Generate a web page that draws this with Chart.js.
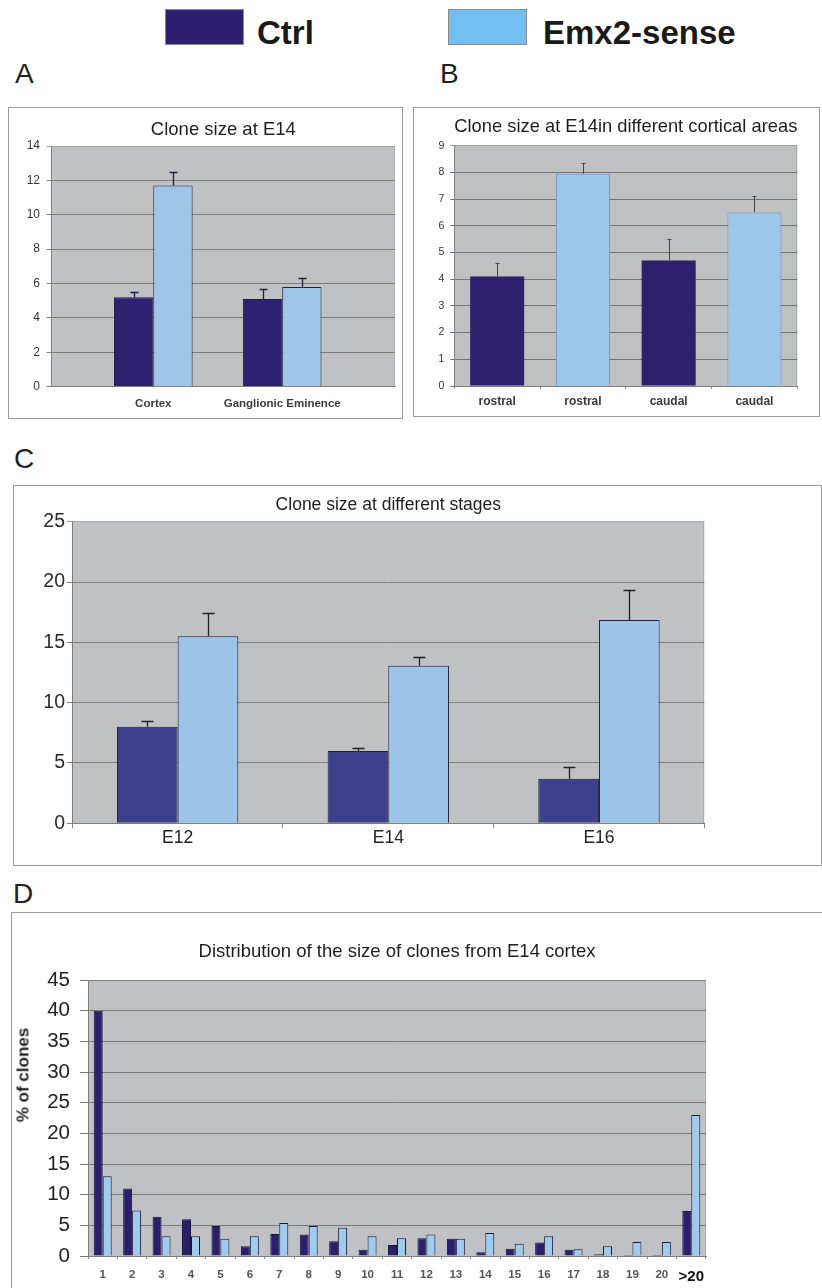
<!DOCTYPE html>
<html><head><meta charset="utf-8">
<script src="https://cdn.jsdelivr.net/npm/chart.js@4.4.1/dist/chart.umd.min.js"></script>
<style>
html,body{margin:0;padding:0;background:#fff;}
body{width:822px;height:1288px;position:relative;overflow:hidden;font-family:'Liberation Sans',Arial,Helvetica,sans-serif;}
.frame{position:absolute;border:1px solid #9a9a9a;box-sizing:border-box;background:#fff;overflow:hidden;}
.frame canvas{position:absolute;left:0;top:0;}
.letter{position:absolute;font-size:28px;line-height:28px;color:#222;}
.lgbox{position:absolute;border:1px solid #8a8a8a;box-sizing:border-box;}
.lgtext{position:absolute;font-weight:bold;font-size:33px;line-height:33px;color:#1a1a1a;white-space:nowrap;}
</style></head>
<body>
<div class="lgbox" style="left:165px;top:9px;width:79px;height:36px;background:#2e1e6e;"></div>
<div class="lgtext" id="lg0" style="left:257px;top:15.5px;"></div>
<div class="lgbox" style="left:448px;top:9px;width:79px;height:36px;background:#70bff0;"></div>
<div class="lgtext" id="lg1" style="left:543px;top:15.5px;"></div>

<div class="letter" style="left:15px;top:59.5px;">A</div>
<div class="letter" style="left:440px;top:59.5px;">B</div>
<div class="letter" style="left:14px;top:445px;">C</div>
<div class="letter" style="left:13px;top:879.5px;">D</div>

<div class="frame" style="left:8px;top:107px;width:395px;height:312px;"><canvas id="cA" width="393" height="310" style="width:393px;height:310px"></canvas></div>
<div class="frame" style="left:413px;top:107px;width:407px;height:310px;"><canvas id="cB" width="405" height="308" style="width:405px;height:308px"></canvas></div>
<div class="frame" style="left:13px;top:485px;width:809px;height:381px;"><canvas id="cC" width="807" height="379" style="width:807px;height:379px"></canvas></div>
<div class="frame" style="left:11px;top:912px;width:830px;height:400px;"><canvas id="cD" width="810" height="375" style="width:810px;height:375px"></canvas></div>
<div style="position:absolute;left:23px;top:1075px;transform:translate(-50%,-50%) rotate(-90deg);font-weight:bold;font-size:17px;line-height:1;white-space:nowrap;color:#222;">% of clones</div>

<script>
// ---------------- data ----------------
const seriesNames = ['Ctrl', 'Emx2-sense'];

// Panel A
const titleA = 'Clone size at E14';
const catsA = ['Cortex', 'Ganglionic Eminence'];
const ctrlA = [5.2, 5.1];
const emxA = [11.7, 5.8];
const ctrlErrA = [0.3, 0.6];
const emxErrA = [0.8, 0.5];
const yTicksA = [0, 2, 4, 6, 8, 10, 12, 14];

// Panel B
const titleB = 'Clone size at E14in different cortical areas';
const catsB = ['rostral', 'rostral', 'caudal', 'caudal'];
const ctrlB = [4.1, null, 4.7, null];
const emxB = [null, 7.95, null, 6.5];
const ctrlErrB = [0.5, null, 0.8, null];
const emxErrB = [null, 0.4, null, 0.6];
const yTicksB = [0, 1, 2, 3, 4, 5, 6, 7, 8, 9];

// Panel C
const titleC = 'Clone size at different stages';
const catsC = ['E12', 'E14', 'E16'];
const ctrlC = [8.0, 6.0, 3.7];
const emxC = [15.5, 13.05, 16.85];
const ctrlErrC = [0.5, 0.25, 1.0];
const emxErrC = [1.9, 0.75, 2.45];
const yTicksC = [0, 5, 10, 15, 20, 25];

// Panel D
const titleD = 'Distribution of the size of clones from E14 cortex';
const catsD = ['1','2','3','4','5','6','7','8','9','10','11','12','13','14','15','16','17','18','19','20','>20'];
const ctrlD = [40, 11, 6.4, 6.0, 4.9, 1.6, 3.6, 3.5, 2.4, 1.0, 1.8, 2.9, 2.8, 0.6, 1.2, 2.2, 1.0, 0.3, 0.15, 0.15, 7.35];
const emxD = [13, 7.4, 3.2, 3.2, 2.8, 3.2, 5.4, 4.9, 4.6, 3.2, 2.9, 3.5, 2.8, 3.75, 2.0, 3.2, 1.1, 1.6, 2.3, 2.3, 23.0];
const yTicksD = [0, 5, 10, 15, 20, 25, 30, 35, 40, 45];

// ---------------- rendering ----------------
document.getElementById('lg0').textContent = seriesNames[0];
document.getElementById('lg1').textContent = seriesNames[1];

const FONT = "'Liberation Sans', Arial, Helvetica, sans-serif";
Chart.defaults.font.family = FONT;

const plotBg = {
  id: 'plotBg',
  beforeDraw(chart, args, opts) {
    const {ctx, chartArea: a} = chart;
    ctx.save();
    ctx.fillStyle = opts.color || '#c0c1c3';
    ctx.fillRect(a.left, a.top, a.right - a.left, a.bottom - a.top);
    if (opts.edge) {
      ctx.strokeStyle = opts.edge; ctx.lineWidth = 1;
      ctx.beginPath();
      const xr = Math.round(a.right) - 0.5;
      ctx.moveTo(xr, a.top); ctx.lineTo(xr, a.bottom); ctx.stroke();
    }
    ctx.restore();
  }
};

const errBars = {
  id: 'errBars',
  afterDatasetsDraw(chart, args, opts) {
    if (!opts || !opts.cap) return;
    const {ctx} = chart;
    const ys = chart.scales.y;
    chart.data.datasets.forEach((ds, i) => {
      if (!ds.errors) return;
      const meta = chart.getDatasetMeta(i);
      meta.data.forEach((el, j) => {
        const e = ds.errors[j];
        if (e == null) return;
        const p = meta.controller.getParsed(j);
        if (!p || p.y == null || isNaN(p.y)) return;
        const yT = Math.round(ys.getPixelForValue(p.y + e)) + 0.5;
        const x = Math.round(el.x) + 0.5;
        ctx.save();
        ctx.strokeStyle = opts.color; ctx.lineWidth = opts.width;
        ctx.beginPath();
        ctx.moveTo(x, el.y); ctx.lineTo(x, yT);
        ctx.moveTo(x - opts.cap / 2, yT); ctx.lineTo(x + opts.cap / 2, yT);
        ctx.stroke();
        ctx.restore();
      });
    });
  }
};

function yAxis(t, o) {
  const top = t[t.length - 1];
  return {
    min: t[0], max: top,
    ticks: {stepSize: t[1] - t[0], color: o.tickColor, padding: o.tickPad,
      font: {family: FONT, size: o.tickSize}},
    grid: {color: (c) => (c.tick && c.tick.value === top && o.topColor) ? o.topColor : o.gridColor,
      lineWidth: 1, drawTicks: true, tickLength: o.tickLen},
    border: {display: true, color: o.axisColor, width: 1},
    afterFit: (s) => { s.width = o.width; }
  };
}

function catAxis(o) {
  return {
    type: 'category', offset: true,
    grid: {display: true, drawOnChartArea: false, drawTicks: o.tickLen > 0, tickLength: o.tickLen, color: '#8a8a8a', offset: true},
    border: {display: true, color: '#808080', width: 1},
    ticks: {autoSkip: false, maxRotation: 0, minRotation: 0, padding: o.pad, color: o.color, font: o.font},
    afterFit: (s) => { s.height = o.height; }
  };
}

function options(p) {
  return {
    responsive: false, animation: false, devicePixelRatio: 1,
    layout: {padding: {left: 0, right: p.padRight, top: 0, bottom: 0}},
    plugins: {
      legend: {display: false}, tooltip: {enabled: false},
      title: {display: true, text: p.title, fullSize: false, color: '#1e1e1e',
        font: {family: FONT, size: p.titleSize, weight: 'normal'},
        padding: {top: p.titleTop, bottom: p.titleBottom}},
      plotBg: {color: p.bg, edge: p.edge},
      errBars: p.err
    },
    scales: {x: p.x, y: p.y}
  };
}

// Panel A (bars placed on a numeric category position axis)
new Chart(document.getElementById('cA'), {
  type: 'bar',
  data: {
    datasets: [
      {label: seriesNames[0], data: ctrlA.map((v, i) => ({x: i + 1, y: v})), errors: ctrlErrA,
       backgroundColor: '#2f2171', borderColor: '#1d1f45', borderWidth: 1, categoryPercentage: 0.61, barPercentage: 1},
      {label: seriesNames[1], data: emxA.map((v, i) => ({x: i + 1, y: v})), errors: emxErrA,
       backgroundColor: '#9dc6e9', borderColor: '#1d1f45', borderWidth: 1, categoryPercentage: 0.61, barPercentage: 1}
    ]
  },
  options: options({
    title: titleA, titleSize: 18.5, titleTop: 10.9, titleBottom: 4.9, padRight: 7,
    bg: '#c0c1c3', edge: '#a9abad',
    err: {color: '#1d1d35', width: 1.3, cap: 8},
    x: {
      type: 'linear', min: 0.212, max: 2.875, offset: false,
      afterBuildTicks: (s) => { s.ticks = catsA.map((c, i) => ({value: i + 1})); },
      grid: {display: false, drawTicks: false},
      border: {display: true, color: '#808080', width: 1},
      ticks: {padding: 10.4, color: '#3a3a3a', maxRotation: 0, autoSkip: false,
        font: {family: FONT, size: 11.5, weight: 'bold'},
        callback: (v) => catsA[Math.round(v) - 1] || ''},
      afterFit: (s) => { s.height = 31.3; }
    },
    y: yAxis(yTicksA, {tickColor: '#333', tickPad: 6.7, tickSize: 12, gridColor: '#7d7d7d', topColor: '#a0a0a0',
      tickLen: 5, axisColor: '#808080', width: 42.7})
  }),
  plugins: [plotBg, errBars]
});

// Panel B
new Chart(document.getElementById('cB'), {
  type: 'bar',
  data: {
    labels: catsB,
    datasets: [
      {label: seriesNames[0], data: ctrlB, errors: ctrlErrB, backgroundColor: '#2e206c', borderWidth: 0,
       categoryPercentage: 0.63, barPercentage: 1, skipNull: true},
      {label: seriesNames[1], data: emxB, errors: emxErrB, backgroundColor: '#9dc7e9', borderColor: '#6f98c4', borderWidth: 1,
       categoryPercentage: 0.63, barPercentage: 1, skipNull: true}
    ]
  },
  options: options({
    title: titleB, titleSize: 19, titleTop: 7.6, titleBottom: 7.3, padRight: 21.7,
    bg: '#bfc0c2', edge: '#a9abad',
    err: {color: '#444', width: 1, cap: 4},
    x: catAxis({tickLen: 3, pad: 5.5, height: 30, color: '#3a3a3a', font: {family: FONT, size: 12, weight: 'bold'}}),
    y: yAxis(yTicksB, {tickColor: '#333', tickPad: 6, tickSize: 10.5, gridColor: '#727272', topColor: '#a0a0a0',
      tickLen: 4, axisColor: '#808080', width: 40.3})
  }),
  plugins: [plotBg, errBars]
});

// Panel C
new Chart(document.getElementById('cC'), {
  type: 'bar',
  data: {
    labels: catsC,
    datasets: [
      {label: seriesNames[0], data: ctrlC, errors: ctrlErrC, backgroundColor: '#3d408b', borderColor: '#1c1f3c', borderWidth: 1,
       categoryPercentage: 0.576, barPercentage: 1},
      {label: seriesNames[1], data: emxC, errors: emxErrC, backgroundColor: '#9bc4e8', borderColor: '#1c1f3c', borderWidth: 1,
       categoryPercentage: 0.576, barPercentage: 1}
    ]
  },
  options: options({
    title: titleC, titleSize: 17.5, titleTop: 8.5, titleBottom: 6.2, padRight: 116.7,
    bg: '#bfc1c3', edge: '#a9abad',
    err: {color: '#222', width: 1.3, cap: 12},
    x: catAxis({tickLen: 5, pad: 1, height: 41.7, color: '#222', font: {family: FONT, size: 17.5, lineHeight: 1}}),
    y: yAxis(yTicksC, {tickColor: '#2a2a2a', tickPad: 1.8, tickSize: 19.5, gridColor: '#808080', topColor: '#a8a8a8',
      tickLen: 5.5, axisColor: '#808080', width: 58.3})
  }),
  plugins: [plotBg, errBars]
});

// Panel D
const lastD = catsD.length - 1;
new Chart(document.getElementById('cD'), {
  type: 'bar',
  data: {
    labels: catsD,
    datasets: [
      {label: seriesNames[0], data: ctrlD, backgroundColor: '#2b1f6d', borderColor: '#15163a', borderWidth: 1,
       categoryPercentage: 0.61, barPercentage: 1},
      {label: seriesNames[1], data: emxD, backgroundColor: '#9fcbee', borderColor: '#15163a', borderWidth: 1,
       categoryPercentage: 0.61, barPercentage: 1}
    ]
  },
  options: options({
    title: titleD, titleSize: 18.5, titleTop: 27.6, titleBottom: 17.2, padRight: 116,
    bg: '#c0c1c4', edge: '#a9abad',
    err: {},
    x: catAxis({tickLen: 3, pad: 9.1, height: 32,
      color: (c) => c.index === lastD ? '#111' : '#555',
      font: (c) => c.index === lastD ? {family: FONT, size: 15, weight: 'bold'} : {family: FONT, size: 11.5, weight: 'bold'}}),
    y: yAxis(yTicksD, {tickColor: '#222', tickPad: 10, tickSize: 20.5, gridColor: '#7a7a7a', topColor: null,
      tickLen: 8, axisColor: '#808080', width: 76})
  }),
  plugins: [plotBg, errBars]
});
</script>
</body></html>
